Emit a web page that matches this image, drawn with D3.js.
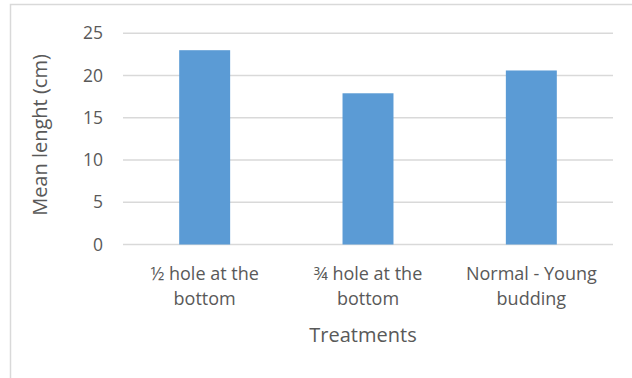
<!DOCTYPE html>
<html>
<head>
<meta charset="utf-8">
<script src="https://cdn.jsdelivr.net/npm/d3@7"></script>
<style>
  html, body { margin: 0; padding: 0; background: #fff; }
  svg { display: block; }
  text { font-family: "Open Sans", "Liberation Sans", sans-serif; fill: #595959; }
</style>
</head>
<body>
<svg id="chart" width="632" height="378"></svg>
<script>
// Mean length per treatment
const categories = [["½ hole at the", "bottom"], ["¾ hole at the", "bottom"], ["Normal - Young", "budding"]];
const values = [23.0, 17.9, 20.6];
const yTicks = [0, 5, 10, 15, 20, 25];
const yTitle = "Mean lenght (cm)";
const xTitle = "Treatments";

const svg = d3.select("#chart");
const W = 632, H = 378;
const plot = { left: 123, right: 613, top: 33.3, bottom: 244.5 };

// chart frame
svg.append("rect")
  .attr("x", 10.5).attr("y", 4.5)
  .attr("width", W + 10).attr("height", H + 10)
  .attr("fill", "#fff").attr("stroke", "#d9d9d9").attr("stroke-width", 1.5);

const x = d3.scaleBand()
  .domain(categories.map((d, i) => i))
  .range([plot.left, plot.right])
  .paddingInner(0.688).paddingOuter(0.344);

const y = d3.scaleLinear().domain([0, 25]).range([plot.bottom, plot.top]);

// horizontal gridlines
svg.append("g").selectAll("line").data(yTicks).join("line")
  .attr("x1", plot.left).attr("x2", plot.right)
  .attr("y1", d => y(d)).attr("y2", d => y(d))
  .attr("stroke", "#d9d9d9").attr("stroke-width", 1.5);

// y axis tick labels
const yAxis = d3.axisLeft(y).tickValues(yTicks).tickSize(0).tickPadding(0);
const gy = svg.append("g").attr("transform", `translate(103,0)`).call(yAxis);
gy.select(".domain").remove();
gy.attr("font-family", null).attr("font-size", null);
gy.selectAll("text")
  .style("font-size", "17.5px").attr("fill", "#595959");

// bars
svg.append("g").selectAll("rect").data(values).join("rect")
  .attr("x", (d, i) => x(i))
  .attr("y", d => y(d))
  .attr("width", x.bandwidth())
  .attr("height", d => y(0) - y(d))
  .attr("fill", "#5b9bd5");

// x category labels (two lines each)
const gx = svg.append("g");
categories.forEach((lines, i) => {
  const cx = x(i) + x.bandwidth() / 2;
  const t = gx.append("text")
    .attr("x", cx)
    .attr("y", 280)
    .attr("text-anchor", "middle")
    .style("font-size", "18px");
  lines.forEach((ln, j) => {
    t.append("tspan")
      .attr("x", cx)
      .attr("dy", j === 0 ? 0 : 25)
      .text(ln);
  });
});

// axis titles
svg.append("text")
  .attr("x", 363)
  .attr("y", 341.5)
  .attr("text-anchor", "middle")
  .style("font-size", "20px")
  .text(xTitle);

svg.append("text")
  .attr("transform", "translate(47,135) rotate(-90)")
  .attr("text-anchor", "middle")
  .style("font-size", "20px")
  .text(yTitle);
</script>
</body>
</html>
